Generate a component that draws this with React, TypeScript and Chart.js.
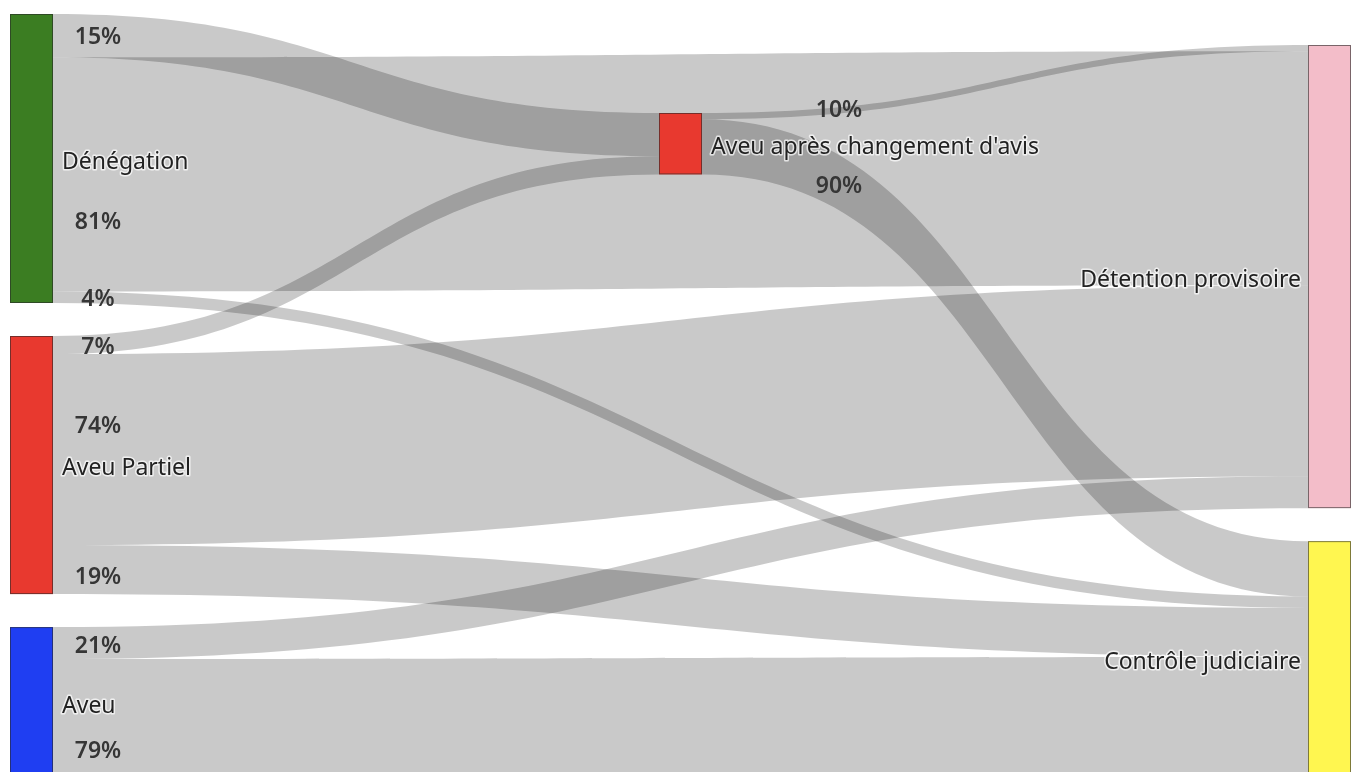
import { useEffect, useRef } from "react";
import { Chart, registerables } from "chart.js";

Chart.register(...registerables);

// Nodes of the flow diagram
const nodeLabels = [
  "Dénégation",
  "Aveu Partiel",
  "Aveu",
  "Aveu après changement d'avis",
  "Détention provisoire",
  "Contrôle judiciaire",
];
const nodeColumns = [0, 0, 0, 1, 2, 2];
// Size of each starting group (relative units); later nodes are sums of their inflows
const startTotals = [100, 89.3, 52.6, 0, 0, 0];

// Links: source -> target with the share (%) of the source that follows it
const linkSources = [0, 0, 0, 1, 1, 1, 2, 2, 3, 3];
const linkTargets = [3, 4, 5, 3, 4, 5, 4, 5, 4, 5];
const linkShares = [15, 81, 4, 7, 74, 19, 21, 79, 10, 90];

// Styling / placement
const nodeColors = ["#3b7d22", "#e8392f", "#1f3ef2", "#e8392f", "#f3bdc9", "#fff650"];
const NODE_WIDTH = 43;
const COLUMN_TOP_PX = [14, 113, 45];
const NODE_GAP_PX = 33;
const PX_PER_UNIT = 2.89;
// label offsets (px) from the start of each link: [dx, dy]
const shareLabelOffsets: [number, number][] = [
  [45, 2], [45, 48], [45, 2], [45, 2], [45, -23], [45, 8], [45, 3], [45, 32], [137, -6], [137, 40],
];
const FONT = '"Noto Sans", "DejaVu Sans", sans-serif';
const FONT_SIZE = 23;

type LinkGeom = { s: number; t: number; value: number; y0: number; y1: number };

function computeValues() {
  const values = startTotals.slice();
  const linkValues: number[] = new Array(linkShares.length).fill(0);
  // process columns left to right
  for (let col = 0; col <= 2; col++) {
    linkSources.forEach((s, i) => {
      if (nodeColumns[s] !== col) return;
      linkValues[i] = (values[s] * linkShares[i]) / 100;
    });
    linkTargets.forEach((t, i) => {
      if (nodeColumns[linkSources[i]] !== col) return;
      values[t] += linkValues[i];
    });
  }
  return { values, linkValues };
}

const sankeyPlugin = {
  id: "sankeyFlows",
  afterDatasetsDraw(chart: any) {
    const { ctx } = chart;
    const xs = chart.scales.x;
    const ys = chart.scales.y;
    const { values, linkValues } = computeValues();
    const h = (v: number) => ys.getPixelForValue(v) - ys.getPixelForValue(0);

    // node rectangles
    const nodeTop: number[] = [];
    const nodeH: number[] = [];
    const colCursor = COLUMN_TOP_PX.slice();
    nodeLabels.forEach((_, i) => {
      const c = nodeColumns[i];
      nodeTop[i] = colCursor[c];
      nodeH[i] = h(values[i]);
      colCursor[c] += nodeH[i] + NODE_GAP_PX;
    });
    const nodeX = (i: number) => xs.getPixelForValue(nodeColumns[i]);
    const center = (i: number) => nodeTop[i] + nodeH[i] / 2;

    // link slots: outgoing ordered by target centre, incoming by source centre
    const links: LinkGeom[] = linkSources.map((s, i) => ({
      s,
      t: linkTargets[i],
      value: linkValues[i],
      y0: 0,
      y1: 0,
    }));
    nodeLabels.forEach((_, n) => {
      const out = links.filter((l) => l.s === n).sort((a, b) => center(a.t) - center(b.t));
      let y = nodeTop[n];
      out.forEach((l) => {
        l.y0 = y;
        y += h(l.value);
      });
      const inc = links.filter((l) => l.t === n).sort((a, b) => center(a.s) - center(b.s));
      y = nodeTop[n];
      inc.forEach((l) => {
        l.y1 = y;
        y += h(l.value);
      });
    });

    ctx.save();
    // flows
    links.forEach((l) => {
      const x0 = nodeX(l.s) + NODE_WIDTH;
      const x1 = nodeX(l.t);
      const xm = (x0 + x1) / 2;
      const w = h(l.value);
      ctx.beginPath();
      ctx.moveTo(x0, l.y0);
      ctx.bezierCurveTo(xm, l.y0, xm, l.y1, x1, l.y1);
      ctx.lineTo(x1, l.y1 + w);
      ctx.bezierCurveTo(xm, l.y1 + w, xm, l.y0 + w, x0, l.y0 + w);
      ctx.closePath();
      ctx.fillStyle = "rgba(0,0,0,0.21)";
      ctx.fill();
    });

    // nodes
    nodeLabels.forEach((_, i) => {
      ctx.fillStyle = nodeColors[i];
      ctx.fillRect(nodeX(i), nodeTop[i], NODE_WIDTH, nodeH[i]);
      ctx.strokeStyle = "rgba(40,40,40,0.6)";
      ctx.lineWidth = 1;
      ctx.strokeRect(nodeX(i) + 0.5, nodeTop[i] + 0.5, NODE_WIDTH - 1, nodeH[i] - 1);
    });

    // share labels
    ctx.font = `600 ${FONT_SIZE}px ${FONT}`;
    ctx.textBaseline = "middle";
    ctx.textAlign = "center";
    ctx.fillStyle = "#363636";
    links.forEach((l, i) => {
      const [dx, dy] = shareLabelOffsets[i];
      const x = nodeX(l.s) + NODE_WIDTH + dx;
      const y = l.y0 + h(l.value) / 2 + dy;
      ctx.fillText(`${linkShares[i]}%`, x, y);
    });

    // node labels with a white halo
    ctx.font = `${FONT_SIZE}px ${FONT}`;
    nodeLabels.forEach((label, i) => {
      const col = nodeColumns[i];
      const right = col === 2;
      const x = right ? nodeX(i) - 7 : nodeX(i) + NODE_WIDTH + 9;
      const y = center(i) + 3.5;
      ctx.textAlign = right ? "right" : "left";
      ctx.lineJoin = "round";
      ctx.lineWidth = 3;
      ctx.strokeStyle = "rgba(255,255,255,0.7)";
      ctx.strokeText(label, x, y);
      ctx.fillStyle = "#222222";
      ctx.fillText(label, x, y);
    });
    ctx.restore();
  },
};

export default function App() {
  const canvasRef = useRef<HTMLCanvasElement | null>(null);

  useEffect(() => {
    const canvas = canvasRef.current;
    if (!canvas) return;
    const chart = new Chart(canvas, {
      type: "scatter",
      data: { datasets: [{ data: [], pointRadius: 0 }] },
      options: {
        animation: false,
        responsive: false,
        maintainAspectRatio: false,
        events: [],
        layout: { padding: { left: 10, right: 53, top: 0, bottom: 0 } },
        plugins: { legend: { display: false }, tooltip: { enabled: false } },
        scales: {
          x: { type: "linear", min: 0, max: 2, display: false },
          y: { type: "linear", min: 0, max: 772 / PX_PER_UNIT, reverse: true, display: false },
        },
      },
      plugins: [sankeyPlugin],
    });
    return () => chart.destroy();
  }, []);

  return (
    <div style={{ position: "fixed", left: 0, top: 0, width: 1361, height: 772, background: "#fff" }}>
      <canvas ref={canvasRef} width={1361} height={772} style={{ display: "block" }} />
    </div>
  );
}
